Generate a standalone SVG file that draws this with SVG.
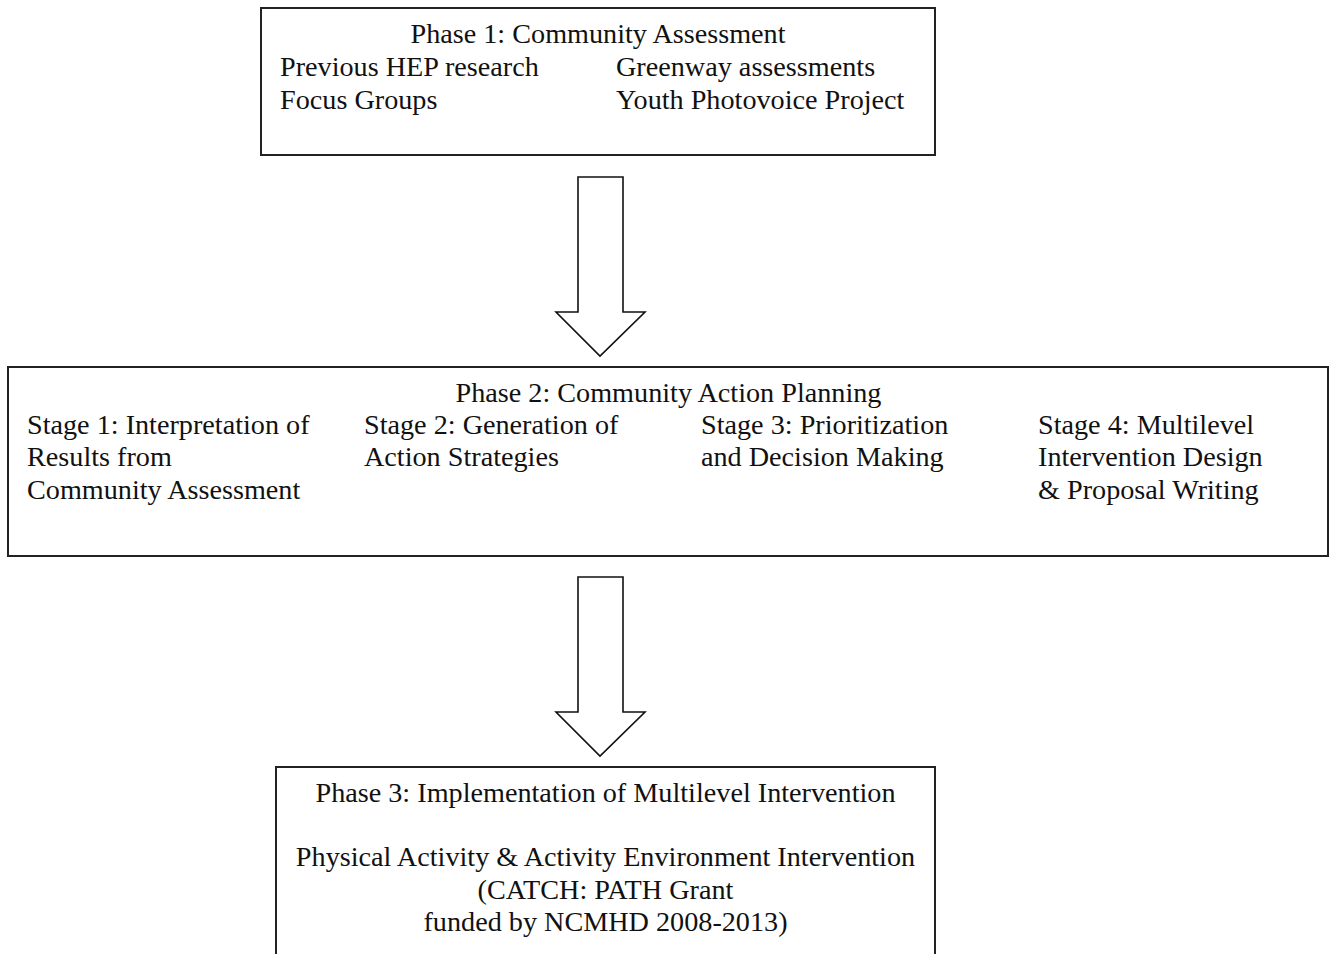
<svg xmlns="http://www.w3.org/2000/svg" width="1333" height="954" viewBox="0 0 1333 954">
<style>
.box{fill:#fff;stroke:#222;stroke-width:2}
.arr{fill:#fff;stroke:#111;stroke-width:1.6;stroke-linejoin:miter}
text{font-family:"Liberation Serif","Times New Roman",serif;font-size:28.2px;fill:#111}
.c{text-anchor:middle}
</style>
<rect width="1333" height="954" fill="#fff"/>
<g id="phase1">
<rect class="box" x="261" y="8" width="674" height="147"/>
<text class="c" x="598" y="43">Phase 1: Community Assessment</text>
<text x="280" y="76">Previous HEP research</text>
<text x="616" y="76">Greenway assessments</text>
<text x="280" y="109">Focus Groups</text>
<text x="616" y="109">Youth Photovoice Project</text>
</g>
<g id="phase2">
<rect class="box" x="8" y="367" width="1320" height="189"/>
<text class="c" x="668.5" y="402">Phase 2: Community Action Planning</text>
<text x="27" y="434">Stage 1: Interpretation of</text>
<text x="27" y="466">Results from</text>
<text x="27" y="499">Community Assessment</text>
<text x="364" y="434">Stage 2: Generation of</text>
<text x="364" y="466">Action Strategies</text>
<text x="701" y="434">Stage 3: Prioritization</text>
<text x="701" y="466">and Decision Making</text>
<text x="1038" y="434">Stage 4: Multilevel</text>
<text x="1038" y="466">Intervention Design</text>
<text x="1038" y="499">&amp; Proposal Writing</text>
</g>
<g id="phase3">
<rect class="box" x="276" y="767" width="659" height="200"/>
<text class="c" x="605.5" y="802">Phase 3: Implementation of Multilevel Intervention</text>
<text class="c" x="605.5" y="866">Physical Activity &amp; Activity Environment Intervention</text>
<text class="c" x="605.5" y="899">(CATCH: PATH Grant</text>
<text class="c" x="605.5" y="931">funded by NCMHD 2008-2013)</text>
</g>
<g id="connectors">
<polygon class="arr" points="578,177 623,177 623,312 645,312 600,356 556,312 578,312"/>
<polygon class="arr" points="578,577 623,577 623,712 645,712 600,756 556,712 578,712"/>
</g>
</svg>
